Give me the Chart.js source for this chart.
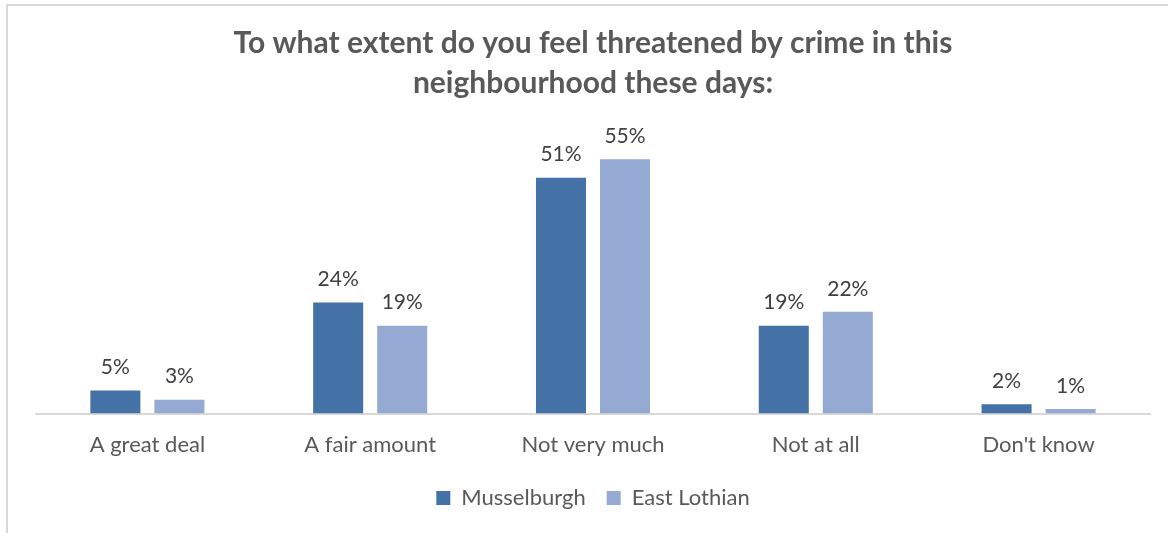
<!DOCTYPE html>
<html>
<head>
<meta charset="utf-8">
<script src="https://cdn.jsdelivr.net/npm/chart.js@4/dist/chart.umd.min.js"></script>
<style>
  html, body { margin: 0; padding: 0; background: #fff; }
  #wrap { position: relative; width: 1168px; height: 533px; }
  #frame { position: absolute; left: 6px; top: 4px; right: -4px; bottom: -4px;
           border-left: 2px solid #d9d9d9; border-top: 2px solid #d9d9d9; }
  canvas { position: absolute; left: 0; top: 0; }
</style>
</head>
<body>
<div id="wrap">
  <div id="frame"></div>
  <canvas id="chart" width="1168" height="533"></canvas>
</div>
<script>
// chart data
var categories = ["A great deal", "A fair amount", "Not very much", "Not at all", "Don't know"];
var musselburgh = [5, 24, 51, 19, 2];
var eastLothian = [3, 19, 55, 22, 1];
var seriesNames = ["Musselburgh", "East Lothian"];

var textGrey = "#595959";

// draw the percentage above every bar
var valueLabels = {
  id: "valueLabels",
  afterDatasetsDraw: function(chart) {
    var ctx = chart.ctx;
    ctx.save();
    ctx.font = "21px Lato";
    ctx.fillStyle = "#404040";
    ctx.textAlign = "center";
    ctx.textBaseline = "middle";
    chart.data.datasets.forEach(function(ds, i) {
      chart.getDatasetMeta(i).data.forEach(function(bar, j) {
        ctx.fillText(ds.data[j] + "%", bar.x, bar.y - 23);
      });
    });
    ctx.restore();
  }
};

var ctx = document.getElementById("chart").getContext("2d");
var myChart = new Chart(ctx, {
  type: "bar",
  data: {
    labels: categories,
    datasets: [
      { label: seriesNames[0], data: musselburgh, backgroundColor: "#4472a6" },
      { label: seriesNames[1], data: eastLothian, backgroundColor: "#95aad2" }
    ]
  },
  options: {
    responsive: false,
    animation: false,
    layout: { padding: { left: 36, right: 18, top: 0, bottom: 14 } },
    categoryPercentage: 0.575,
    barPercentage: 0.781,
    scales: {
      x: {
        grid: { display: false, drawTicks: false },
        border: { display: true, color: "#d9d9d9", width: 2 },
        ticks: { color: textGrey, font: { family: "Lato", size: 22 }, padding: 18 },
        afterFit: function(scale) { scale.height = scale.height - 10; }
      },
      y: {
        display: false,
        min: 0,
        max: 60
      }
    },
    plugins: {
      title: {
        display: true,
        text: ["To what extent do you feel threatened by crime in this", "neighbourhood these days:"],
        color: textGrey,
        font: { family: "Lato", size: 30, weight: "bold", lineHeight: "40px" },
        padding: { top: 23, bottom: 33 }
      },
      legend: {
        position: "bottom",
        labels: {
          color: textGrey,
          font: { family: "Lato", size: 22 },
          boxWidth: 14,
          boxHeight: 14,
          padding: 21
        }
      },
      tooltip: { enabled: false }
    }
  },
  plugins: [valueLabels]
});
</script>
</body>
</html>
